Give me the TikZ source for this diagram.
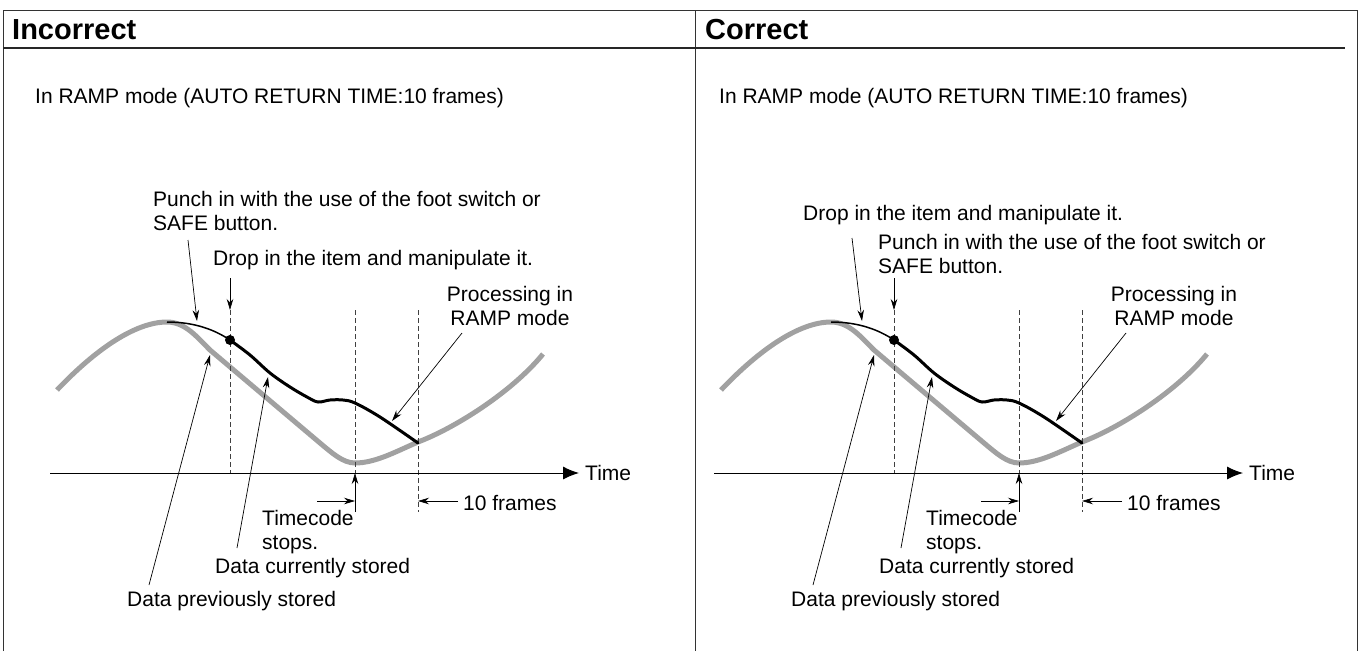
\documentclass[tikz,border=0pt]{standalone}
\usepackage{fontspec}
\setmainfont{Liberation Sans}
\usetikzlibrary{arrows.meta}
\tikzset{
 lbl/.style={inner sep=0pt, anchor=base west, font=\fontsize{21}{23.5}\selectfont, align=left},
 clbl/.style={inner sep=0pt, anchor=base, font=\fontsize{21}{23.5}\selectfont, align=center},
 hdr/.style={inner sep=0pt, anchor=base west, font=\fontsize{29}{34}\selectfont\bfseries},
 ptr/.style={draw=black, line width=0.7pt, -{Stealth[length=11pt,width=6.5pt]}},
 axis/.style={draw=black, line width=1pt, -{Latex[length=16pt,width=13pt]}},
 guide/.style={draw=black!75, line width=0.8pt, dash pattern=on 5pt off 3pt},
 olddata/.style={draw=black!37, line width=5pt},
 newdata/.style={draw=black, line width=3pt, line cap=round},
 thinnew/.style={draw=black, line width=1.5pt},
 rule/.style={draw=black!80, line width=1pt},
 dot/.style={circle, fill=black, inner sep=0pt, minimum size=10pt},
}
\newcommand\drawpanel[2]{%
\begin{scope}[xshift=#2]
 \draw[olddata] (57,390) .. controls (95,350) and (135,322) .. (167,322)
   .. controls (185,322) and (197,337) .. (210,350) -- (320,443)
   .. controls (332,453) and (343,463) .. (355,463)
   .. controls (375,463) and (395,452) .. (418,442)
   .. controls (455,428) and (512,392) .. (543,354);
 \draw[guide] (230,310) -- (230,473);
 \draw[guide] (355,310) -- (355,473);
 \draw[guide] (418,310) -- (418,512);
 \draw[thinnew] (167,322) .. controls (195,322) and (215,330) .. (230,340);
 \draw[newdata] plot[smooth,tension=0.55] coordinates {(230,340) (250,355) (270,373) (290,387) (307,397) (318,402) (330,400) (343,400) (355,403) (380,417) (418,443)};
 \node[dot] (#1dot) at (230,340) {};
 \coordinate (#1ax0) at (50,473);
 \coordinate (#1ax1) at (579,473);
 \draw[axis] (#1ax0) -- (#1ax1);
 \node[lbl] (#1time) at (585,480) {Time};
 % Processing in RAMP mode
 \node[clbl] (#1proc) at (510,325) {Processing in\\RAMP mode};
 \coordinate (#1procA) at (462,333);
 \coordinate (#1procB) at (392,421);
 \draw[ptr] (#1procA) -- (#1procB);
 % timecode stops
 \node[lbl] (#1tc) at (262,549) {Timecode\\stops.};
 \coordinate (#1tcA) at (355,512);
 \coordinate (#1tcB) at (355,473);
 \draw[ptr] (#1tcA) -- (#1tcB);
 \coordinate (#1dimA) at (317,501);
 \coordinate (#1dimB) at (355,501);
 \draw[ptr] (#1dimA) -- (#1dimB);
 \coordinate (#1dimC) at (458,501);
 \coordinate (#1dimD) at (418,501);
 \draw[ptr] (#1dimC) -- (#1dimD);
 \node[lbl] (#1ten) at (463,510) {10 frames};
 % data currently stored
 \node[lbl] (#1cur) at (215,573) {Data currently stored};
 \coordinate (#1curA) at (237,548);
 \coordinate (#1curB) at (268,377);
 \draw[ptr] (#1curA) -- (#1curB);
 % data previously stored
 \node[lbl] (#1prev) at (127,606) {Data previously stored};
 \coordinate (#1prevA) at (149,585);
 \coordinate (#1prevB) at (210,355);
 \draw[ptr] (#1prevA) -- (#1prevB);
\end{scope}}
\begin{document}
\begin{tikzpicture}[x=1pt,y=-1pt]
\useasboundingbox (0,0) rectangle (1363,651);
% table
\draw[rule] (3,651) -- (3,10) -- (1357,10) -- (1357,651);
\draw[rule] (695,10) -- (695,651);
\draw[draw=black!85, line width=2.2pt] (3,48) -- (1345,48);
\node[hdr] (hinc) at (12,39) {Incorrect};
\node[hdr] (hcor) at (705,39) {Correct};
% left panel
\node[lbl] (lmode) at (35,103) {In RAMP mode (AUTO RETURN TIME:10 frames)};
\drawpanel{L}{0pt}
\node[lbl] (lpunch) at (153,230) {Punch in with the use of the foot switch or\\SAFE button.};
\coordinate (lpunchA) at (188,240);
\coordinate (lpunchB) at (197,321);
\draw[ptr] (lpunchA) -- (lpunchB);
\node[lbl] (ldrop) at (213,265) {Drop in the item and manipulate it.};
\coordinate (ldropA) at (230,278);
\coordinate (ldropB) at (230,310);
\draw[ptr] (ldropA) -- (ldropB);
% right panel
\node[lbl] (rmode) at (719,103) {In RAMP mode (AUTO RETURN TIME:10 frames)};
\drawpanel{R}{664pt}
\node[lbl] (rdrop) at (803,220) {Drop in the item and manipulate it.};
\coordinate (rdropA) at (852,238);
\coordinate (rdropB) at (862,321);
\draw[ptr] (rdropA) -- (rdropB);
\node[lbl] (rpunch) at (878,273) {Punch in with the use of the foot switch or\\SAFE button.};
\coordinate (rpunchA) at (894,278);
\coordinate (rpunchB) at (894,310);
\draw[ptr] (rpunchA) -- (rpunchB);
\end{tikzpicture}
\end{document}
